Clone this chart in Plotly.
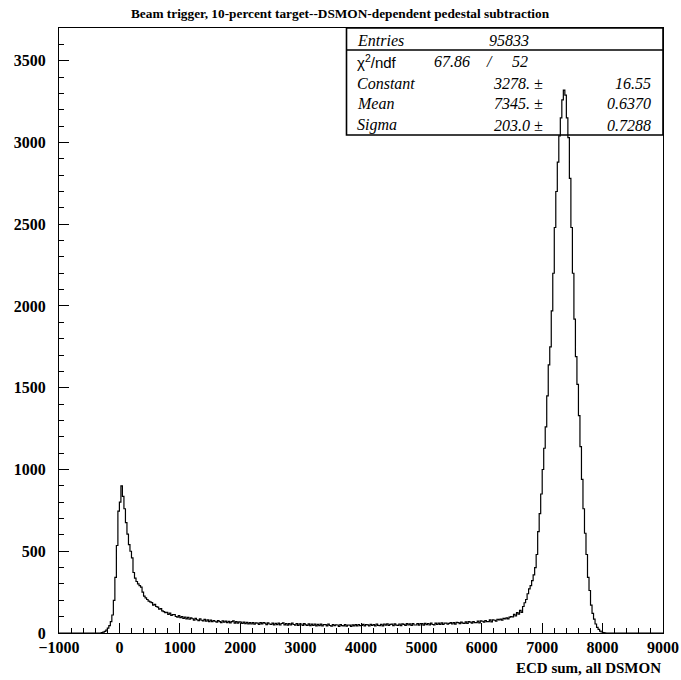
import numpy as np
import plotly.graph_objects as go

# ---------------- data ----------------
bin_low = -1000
bin_width = 25
n_bins = 400

# bins from -1000 to -300 are empty
below_pedestal = [0] * 28

# -300 .. 6700, rows of 4 bins (100 units each)
pedestal_and_tail = [
    2, 5, 10, 18,          # -300
    30, 45, 70, 110,       # -200
    200, 340, 535, 745,    # -100
    800, 900, 835, 760,    # 0
    675, 605, 540, 500,    # 100
    460, 370, 335, 315,    # 200
    300, 290, 280, 250,    # 300
    225, 215, 205, 195,    # 400
    190, 186, 170, 175,    # 500
    162, 158, 146, 149,    # 600
    135, 131, 124, 127,    # 700
    114, 121, 108, 112,    # 800
    113, 101, 97, 106,     # 900
    94, 101, 90, 98,       # 1000
    86, 96, 84, 93,        # 1100
    87, 79, 90, 81,        # 1200
    76, 86, 78, 74,        # 1300
    83, 72, 80, 70,        # 1400
    79, 69, 76, 72,        # 1500
    66, 76, 70, 64,        # 1600
    75, 66, 73, 63,        # 1700
    71, 62, 69, 74,        # 1800
    61, 70, 60, 68,        # 1900
    67, 58, 66, 57,        # 2000
    65, 56, 64, 55,        # 2100
    63, 54, 62, 60,        # 2200
    53, 63, 56, 64,        # 2300
    60, 51, 62, 55,        # 2400
    52, 61, 50, 59,        # 2500
    51, 60, 49, 58,        # 2600
    62, 50, 58, 48,        # 2700
    57, 49, 60, 52,        # 2800
    48, 58, 47, 56,        # 2900
    55, 46, 57, 50,        # 3000
    47, 56, 45, 54,        # 3100
    46, 55, 44, 53,        # 3200
    45, 54, 43, 52,        # 3300
    51, 43, 54, 46,        # 3400
    42, 52, 45, 50,        # 3500
    49, 41, 51, 45,        # 3600
    43, 51, 42, 49,        # 3700
    48, 40, 50, 44,        # 3800
    51, 43, 52, 45,        # 3900
    46, 53, 44, 52,        # 4000
    50, 43, 53, 46,        # 4100
    52, 44, 55, 47,        # 4200
    45, 53, 44, 55,        # 4300
    48, 56, 46, 53,        # 4400
    55, 45, 56, 48,        # 4500
    46, 55, 45, 56,        # 4600
    53, 47, 57, 49,        # 4700
    56, 47, 58, 49,        # 4800
    49, 58, 48, 57,        # 4900
    57, 48, 59, 51,        # 5000
    58, 49, 60, 52,        # 5100
    50, 60, 52, 61,        # 5200
    53, 62, 52, 61,        # 5300
    60, 54, 59, 63,        # 5400
    55, 64, 54, 65,        # 5500
    63, 57, 66, 60,        # 5600
    59, 68, 58, 69,        # 5700
    67, 61, 70, 64,        # 5800
    63, 73, 62, 74,        # 5900
    72, 66, 76, 70,        # 6000
    69, 80, 68, 81,        # 6100
    78, 73, 84, 80,        # 6200
    85, 79, 90, 86,        # 6300
    93, 86, 97, 100,       # 6400
    98, 114, 104, 124,     # 6500
    116, 138, 126, 162,    # 6600
]

# 6700 .. 8050
beam_peak = [
    185, 205, 240, 270,        # 6700
    290, 320, 355, 400,        # 6800
    480, 620, 730, 850,        # 6900
    1000, 1130, 1260, 1450,    # 7000
    1640, 1750, 1970, 2200,    # 7100
    2480, 2700, 2880, 3040,    # 7200
    3150, 3260, 3320, 3290,    # 7300
    3150, 3030, 2780, 2480,    # 7400
    2200, 1920, 1690, 1520,    # 7500
    1330, 1140, 940, 760,      # 7600
    610, 480, 340, 260,        # 7700
    170, 120, 85, 55,          # 7800
    35, 22, 12, 6,             # 7900
    3, 1,                      # 8000
]

counts = below_pedestal + pedestal_and_tail + beam_peak
counts = counts + [0] * (n_bins - len(counts))

title_text = "Beam trigger, 10-percent target--DSMON-dependent pedestal subtraction"
x_title = "ECD sum, all DSMON"

stats_rows = [
    ("Constant", "3278. \u00b1", "16.55"),
    ("Mean", "7345. \u00b1", "0.6370"),
    ("Sigma", "203.0 \u00b1", "0.7288"),
]
entries = "95833"
chi2_val, ndf_val = "67.86", "52"

# ---------------- figure ----------------
edges = bin_low + bin_width * np.arange(n_bins + 1)
xs = list(edges)
ys = list(counts) + [counts[-1]]

W, H = 681, 680
L, R, T, B = 59, 18, 28, 47
pw, ph = W - L - R, H - T - B

def px(x):
    return (x - L) / pw

def py(y):
    return (H - B - y) / ph

fig = go.Figure()
fig.add_trace(go.Scatter(x=xs, y=ys, mode="lines", line=dict(color="black", width=1.2, shape="hv"),
                         hoverinfo="skip", showlegend=False))

serif = "Liberation Serif, Times New Roman, serif"
axis_common = dict(showgrid=False, zeroline=False, showline=True, linecolor="black", linewidth=1,
                   mirror=True, ticks="inside", tickcolor="black", tickwidth=1, ticklen=10,
                   automargin=False,
                   tickfont=dict(family=serif, size=16, color="black", weight="bold"))

fig.update_layout(
    width=W, height=H, margin=dict(l=L, r=R, t=T, b=B, autoexpand=False),
    paper_bgcolor="white", plot_bgcolor="white",
    xaxis=dict(range=[-1000, 9000], dtick=1000, tick0=0,
               minor=dict(dtick=200, ticks="inside", ticklen=5, tickcolor="black", tickwidth=1),
               **axis_common),
    yaxis=dict(range=[0, 3700], dtick=500, tick0=0, ticklabelstandoff=9,
               minor=dict(dtick=100, ticks="inside", ticklen=5, tickcolor="black", tickwidth=1),
               **axis_common),
)

annotations = []
annotations.append(dict(x=px(340), y=py(13), xref="paper", yref="paper", text="<b>" + title_text + "</b>",
                        showarrow=False, xanchor="center", yanchor="middle",
                        font=dict(family=serif, size=13.3, color="black")))
annotations.append(dict(x=1.0, y=py(668), xref="paper", yref="paper", text="<b>" + x_title + "</b>",
                        showarrow=False, xanchor="right", yanchor="middle",
                        font=dict(family=serif, size=15, color="black")))

ital = dict(family=serif, size=16, color="black")
sans = dict(family="Liberation Sans, Arial, sans-serif", size=15, color="black")
row_y = [40.7, 61.7, 83, 103.5, 125]

def txt(x, y, s, anchor="left", font=ital):
    annotations.append(dict(x=px(x), y=py(y), xref="paper", yref="paper", text=s, showarrow=False,
                            xanchor=anchor, yanchor="middle", font=font))

txt(355, row_y[0], "<i>Entries</i>")
txt(487, row_y[0], "<i>" + entries + "</i>")
txt(355, row_y[1], "\u03c7<sup>2</sup>/ndf", font=sans)
txt(432, row_y[1], "<i>" + chi2_val + "</i>")
txt(489, row_y[1], "<i>/</i>", anchor="center")
txt(510, row_y[1], "<i>" + ndf_val + "</i>")
for i, (name, val, err) in enumerate(stats_rows):
    yy = row_y[2 + i]
    txt(355, yy, "<i>" + name + "</i>")
    txt(545, yy, "<i>" + val + "</i>", anchor="right")
    txt(653, yy, "<i>" + err + "</i>", anchor="right")

fig.update_layout(annotations=annotations)

shapes = [
    dict(type="rect", xref="paper", yref="paper", x0=px(346.5), x1=1.0, y0=py(135), y1=1.0,
         line=dict(color="black", width=1.6), fillcolor="rgba(0,0,0,0)", layer="above"),
    dict(type="line", xref="paper", yref="paper", x0=px(346.5), x1=1.0, y0=py(50), y1=py(50),
         line=dict(color="black", width=1.6)),
]
fig.update_layout(shapes=shapes)

fig.write_html("out.html")
